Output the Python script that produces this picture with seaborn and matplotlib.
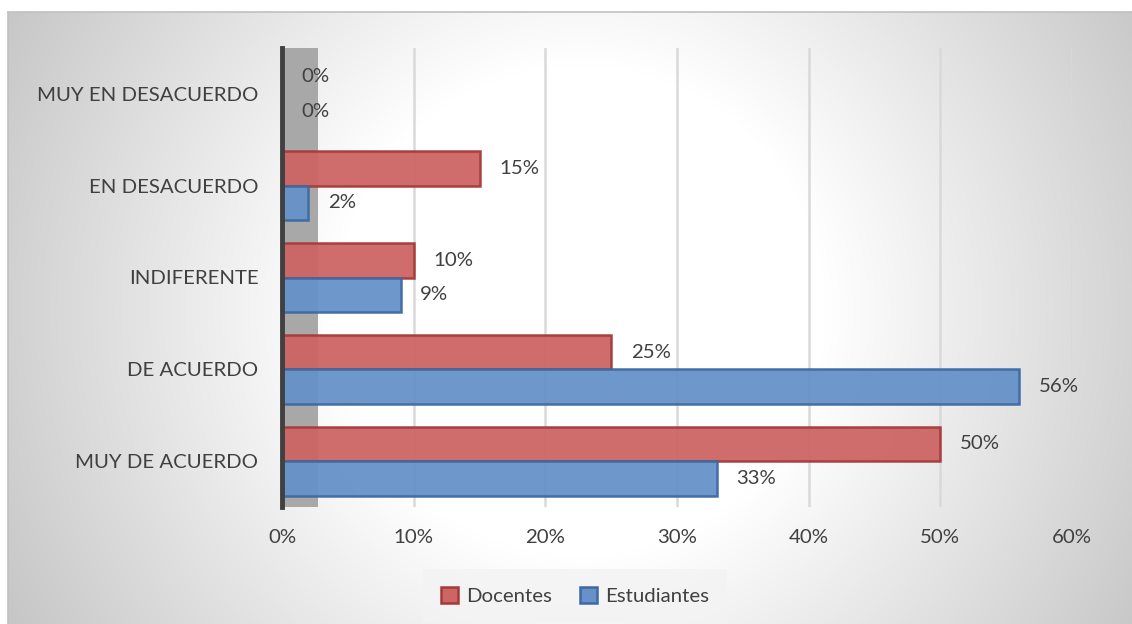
import numpy as np
import pandas as pd
import matplotlib
matplotlib.use("Agg")
import matplotlib.pyplot as plt
from matplotlib.ticker import PercentFormatter
import seaborn as sns

categories = ["MUY EN DESACUERDO", "EN DESACUERDO", "INDIFERENTE", "DE ACUERDO", "MUY DE ACUERDO"]
series_names = ["Docentes", "Estudiantes"]
docentes = [0, 15, 10, 25, 50]
estudiantes = [0, 2, 9, 56, 33]
x_ticks = [0, 10, 20, 30, 40, 50, 60]

df = pd.DataFrame({
    "categoria": categories * 2,
    "grupo": [series_names[0]] * len(categories) + [series_names[1]] * len(categories),
    "valor": docentes + estudiantes,
})

sns.set_theme(style="white")
plt.rcParams["font.family"] = ["Lato", "DejaVu Sans"]

FS = 14.7
W, H = 1132, 624
fig = plt.figure(figsize=(W / 100, H / 100), dpi=100)
fig.patch.set_facecolor("white")

# radial grey background of the chart area
bg = fig.add_axes([8 / W, 0, 1 - 8 / W, 1 - 12 / H], zorder=-10)
yy, xx = np.mgrid[12:H, 8:W]
d = np.hypot(xx - 580, yy - 310)
shade = 1 - 0.00055 * np.clip(d - 245, 0, None)
bg.imshow(np.dstack([shade] * 3), aspect="auto", interpolation="bilinear",
          extent=[0, 1, 0, 1])
bg.set_xticks([]); bg.set_yticks([])
for s in ["left", "top"]:
    bg.spines[s].set_color("#c0c0c0"); bg.spines[s].set_linewidth(1.2)
for s in ["right", "bottom"]:
    bg.spines[s].set_visible(False)

ax = fig.add_axes([282 / W, 1 - 507 / H, (1072 - 282) / W, (507 - 48) / H])
ax.patch.set_alpha(0)

red = "#cd6565"
blue = "#6692c9"
sns.barplot(data=df, y="categoria", x="valor", hue="grupo", order=categories,
            hue_order=series_names, palette=[red, blue], orient="h",
            width=0.75, saturation=1, alpha=0.95, ax=ax, zorder=3)

edges = ["#a53a3a", "#3d69a3"]
for cont, ec in zip(ax.containers, edges):
    for bar in cont:
        bar.set_edgecolor(ec)
        bar.set_linewidth(1.8)
    ax.bar_label(cont, labels=[f"{v:.0f}%" for v in cont.datavalues],
                 padding=14, fontsize=FS, color="#404040")

# side wall
ax.axvspan(0, 2.7, color="#a8a8a8", zorder=1, lw=0)

ax.set_xlim(0, 60)
ax.set_ylim(4.5, -0.5)
ax.set_xticks(x_ticks)
ax.xaxis.set_major_formatter(PercentFormatter(decimals=0))
ax.grid(axis="x", color="#d9d9d9", linewidth=1.8, zorder=0)
ax.set_axisbelow(True)
ax.tick_params(axis="x", length=0, pad=16, labelsize=FS, labelcolor="#404040")
ax.tick_params(axis="y", length=0, pad=17, labelsize=FS, labelcolor="#404040")
ax.set_xlabel("")
ax.set_ylabel("")
for s in ["top", "right", "bottom"]:
    ax.spines[s].set_visible(False)
ax.spines["left"].set_color("#404040")
ax.spines["left"].set_linewidth(3.5)
ax.spines["left"].set_zorder(5)

ax.get_legend().remove()
handles = [plt.Rectangle((0, 0), 1, 1, facecolor=c, edgecolor=e, linewidth=1.8)
           for c, e in zip([red, blue], edges)]
leg = fig.legend(handles, series_names, loc="center", bbox_to_anchor=(575 / W, 1 - 596 / H),
                 ncol=2, frameon=True, fontsize=FS, handlelength=0.8, handleheight=0.8,
                 handletextpad=0.4, columnspacing=1.4, borderpad=0.9, labelcolor="#404040")
leg.get_frame().set_facecolor("#f3f3f3")
leg.get_frame().set_edgecolor("none")
leg.get_frame().set_alpha(0.8)
leg.get_frame().set_boxstyle("square", pad=0.0)

fig.savefig("out.png", dpi=100)
